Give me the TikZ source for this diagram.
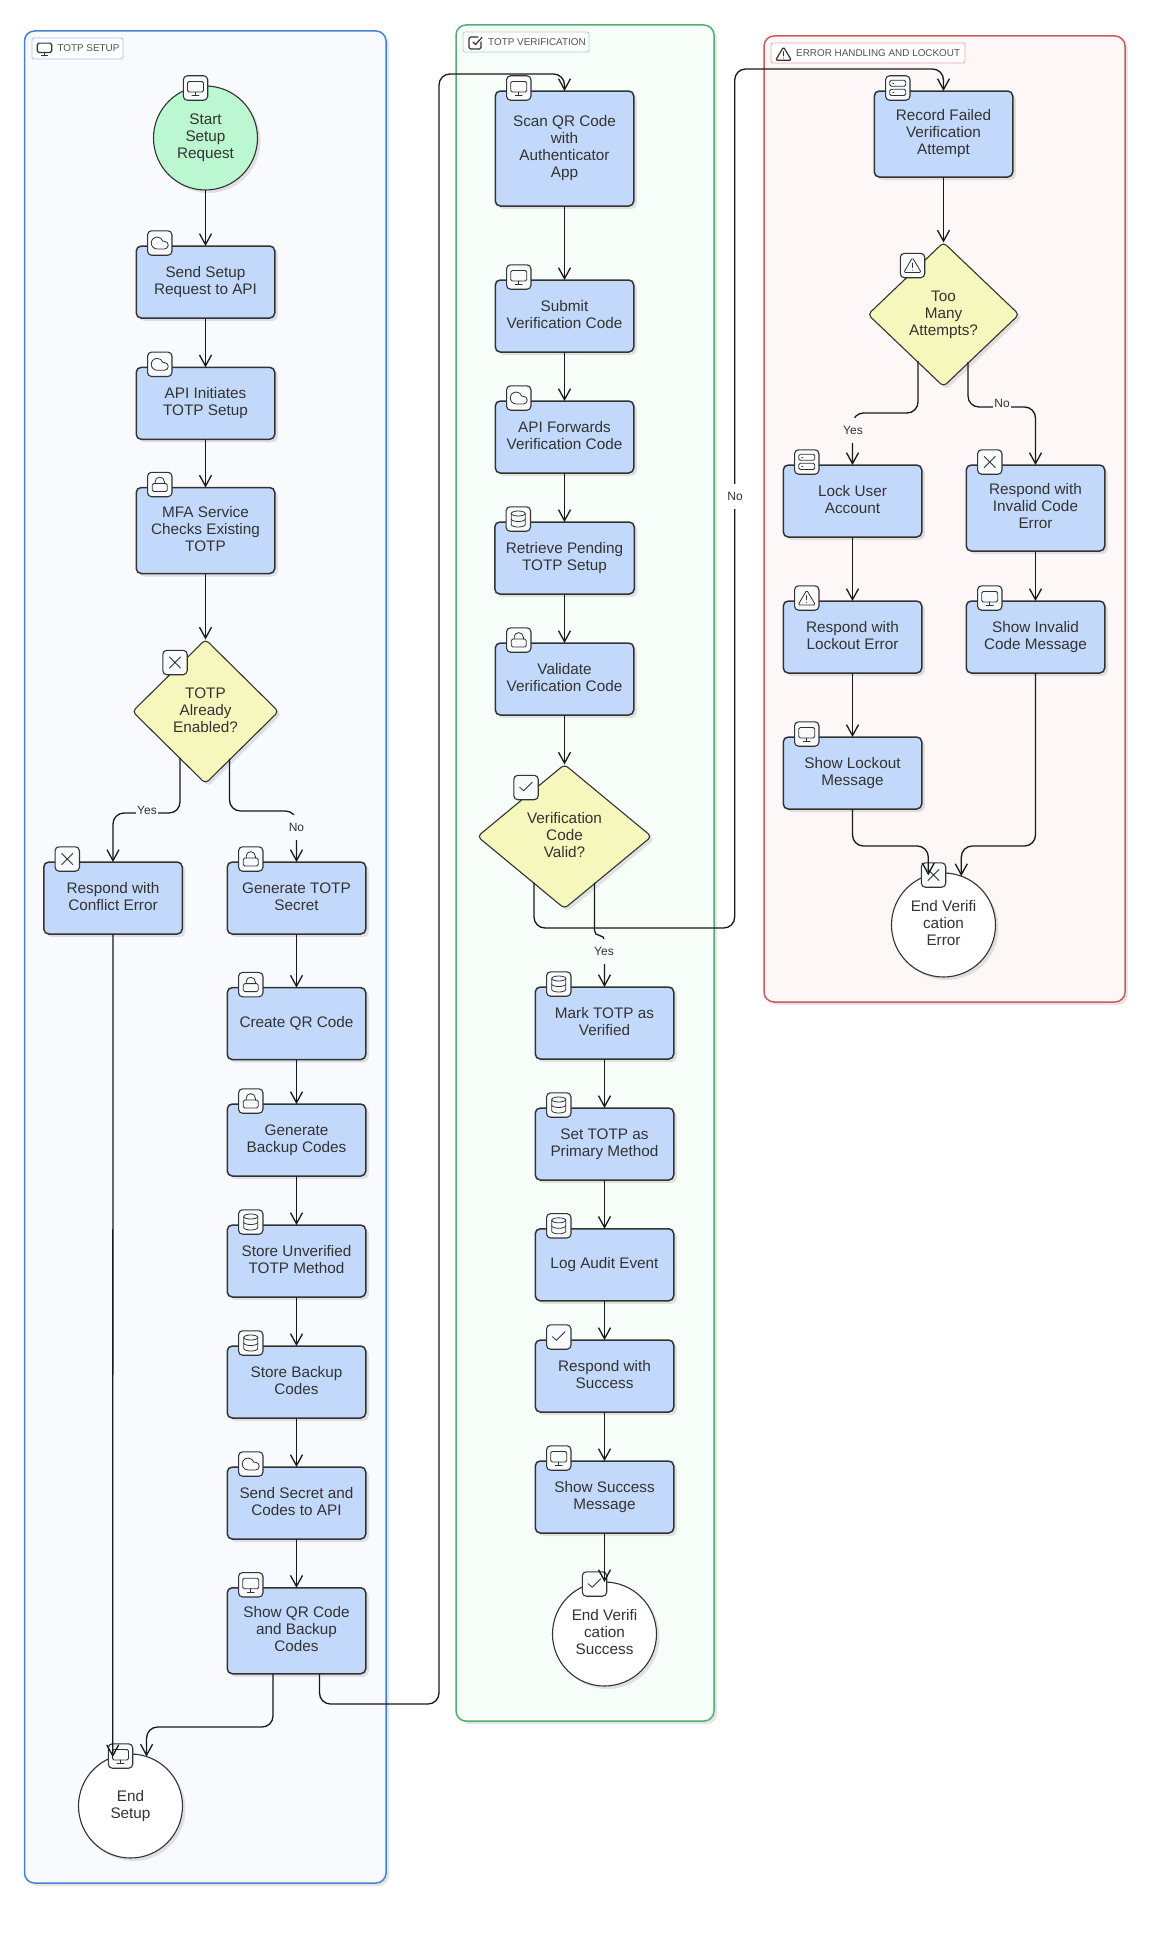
\documentclass[tikz,border=0pt]{standalone}
\usepackage{fontspec}
\setmainfont{Liberation Sans}
\usetikzlibrary{calc,shapes.geometric,shadows,arrows.meta}
\definecolor{procfill}{HTML}{C3D9FB}
\definecolor{startfill}{HTML}{BBF7D0}
\definecolor{decfill}{HTML}{F5F7BD}
\definecolor{nodeline}{HTML}{333333}
\definecolor{txt}{HTML}{333333}
\definecolor{blueline}{HTML}{4A80D4}
\definecolor{bluebg}{HTML}{F8FAFE}
\definecolor{bluechip}{HTML}{A5C1EE}
\definecolor{greenline}{HTML}{52AE70}
\definecolor{greenbg}{HTML}{F7FDF9}
\definecolor{greenchip}{HTML}{A3D9B5}
\definecolor{redline}{HTML}{CC5C5C}
\definecolor{redbg}{HTML}{FDF7F7}
\definecolor{redchip}{HTML}{E8A8A8}
\definecolor{badgefill}{HTML}{F8FAFC}
\tikzset{
  softshadow/.style={drop shadow={shadow xshift=3pt,shadow yshift=-3pt,fill=black,opacity=.1}},
  nodebase/.style={draw=nodeline,text=txt,align=center,inner sep=0pt,outer sep=0pt,
    font=\fontsize{15.3}{17}\selectfont,softshadow,
    execute at end node={\rule[-3.3pt]{0pt}{3.3pt}}},
  proc/.style={nodebase,rectangle,rounded corners=5pt,fill=procfill,line width=1.5pt,
    minimum width=138.5pt,minimum height=72pt},
  tall/.style={minimum height=86pt},
  disc/.style={nodebase,circle,line width=1.1pt,minimum size=104pt},
  dec/.style={nodebase,diamond,rounded corners=4pt,fill=decfill,line width=1.1pt,minimum height=144pt},
  clusterbox/.style={rectangle,rounded corners=10pt,line width=1.5pt,outer sep=0pt,inner sep=0pt,softshadow},
  chip/.style={rectangle,rounded corners=2pt,line width=.8pt,fill=white,outer sep=0pt,inner sep=0pt},
  chiptext/.style={anchor=west,inner sep=0pt,text=txt!85,font=\fontsize{9.9}{12}\selectfont},
  conn/.style={draw=black!90,line width=1.3pt,rounded corners=11pt,-{Straight Barb[length=11pt,width=12pt,line width=1.3pt]}},
  elabel/.style={inner xsep=1pt,inner ysep=0pt,minimum height=25pt,text=txt,font=\fontsize{12}{14}\selectfont},
  ico/.style={draw=nodeline,line width=.8pt,line join=round,line cap=round},
  chipico/.style={draw=nodeline,line width=1.2pt,line join=round,line cap=round},
  badgebox/.style={draw=nodeline,fill=badgefill,line width=1.1pt,rounded corners=4pt},
  icoMon/.pic={\draw[pic actions,rounded corners=1.5pt] (-8,-6.5) rectangle (8,4);
    \draw[pic actions] (0,4)--(0,7.5) (-3.5,7.5)--(3.5,7.5);},
  icoCloud/.pic={\draw[pic actions] (4.7,5.95)--(-2.55,5.95) arc[start angle=90,end angle=343.4,radius=5.95]
    --(4.7,-1.7) arc[start angle=270,end angle=450,radius=3.83]--cycle;},
  icoLock/.pic={\draw[pic actions,rounded corners=1.5pt] (-7.5,-1) rectangle (7.5,7);
    \draw[pic actions] (-4.6,-1)--(-4.6,-2.8) arc[start angle=180,end angle=360,radius=4.6]--(4.6,-1);},
  icoX/.pic={\draw[pic actions] (-5.5,-5.5)--(5.5,5.5) (-5.5,5.5)--(5.5,-5.5);},
  icoDb/.pic={\draw[pic actions] (0,-5.5) ellipse[x radius=7,y radius=2.5];
    \draw[pic actions] (-7,-5.5)--(-7,5.5) arc[start angle=180,end angle=0,x radius=7,y radius=2.5]--(7,-5.5);
    \draw[pic actions] (-7,0) arc[start angle=180,end angle=0,x radius=7,y radius=2.5];},
  icoServer/.pic={\draw[pic actions,rounded corners=1.5pt] (-8,-7.7) rectangle (8,-1.7) (-8,1.2) rectangle (8,7.5);
    \draw[pic actions] (-5,-4.7)--(-4.2,-4.7) (-5,4.3)--(-4.2,4.3);},
  icoAlert/.pic={\draw[pic actions,rounded corners=1.5pt] (0,-7.8)--(8.8,7)--(-8.8,7)--cycle;
    \draw[pic actions] (0,-2.5)--(0,2) (0,4.5)--(0,4.6);},
  icoCheck/.pic={\draw[pic actions] (-6.3,-.3)--(-2.3,3.3)--(6.3,-5.3);},
  icoBoxCheck/.pic={\draw[pic actions,rounded corners=1.5pt] (6,-1)--(6,6)--(-6,6)--(-6,-6)--(3,-6);
    \draw[pic actions] (-2,-1)--(.5,1.5)--(7,-5.5);},
  badge/.pic={\path[badgebox] (-12.2,-12.2) rectangle (12.2,12.2); \pic[ico] {#1};},
}
\begin{document}
\begin{tikzpicture}[x=1pt,y=-1pt]
\useasboundingbox (0,0) rectangle (1150,1935);
\fill[white] (0,0) rectangle (1150,1935);
% clusters
\node[clusterbox,draw=blueline,fill=bluebg,minimum width=361.5pt,minimum height=1852pt] (c1) at (205.25,957) {};
\node[clusterbox,draw=greenline,fill=greenbg,minimum width=258pt,minimum height=1696pt] (c2) at (585,873) {};
\node[clusterbox,draw=redline,fill=redbg,minimum width=361pt,minimum height=966pt] (c3) at (944.5,519) {};
\node[chip,draw=bluechip,minimum width=91pt,minimum height=21pt] (chip1) at (77.5,48.5) {};
\node[chip,draw=greenchip,minimum width=126pt,minimum height=20pt] (chip2) at (526,42) {};
\node[chip,draw=redchip,minimum width=194pt,minimum height=20pt] (chip3) at (868,53) {};
\node[chiptext] (chipt1) at (57.3,48.5) {TOTP SETUP};
\node[chiptext] (chipt2) at (488,42.5) {TOTP VERIFICATION};
\node[chiptext] (chipt3) at (796,53.5) {ERROR HANDLING AND LOCKOUT};
\pic[chipico,scale=.9] at (44.5,49) {icoMon};
\pic[chipico] at (475,43) {icoBoxCheck};
\pic[chipico,scale=.9] at (783.5,54) {icoAlert};
% setup
\node[disc,fill=startfill] (start) at (205.5,138) {Start\\Setup\\Request};
\node[proc] (send) at (205.5,282) {Send Setup\\Request to API};
\node[proc] (apiinit) at (205.5,403.3) {API Initiates\\TOTP Setup};
\node[proc,tall] (mfa) at (205.5,530.5) {MFA Service\\Checks Existing\\TOTP};
\node[dec,minimum width=146pt] (d1) at (205.5,711.5) {TOTP\\Already\\Enabled?};
\node[proc] (conflict) at (113,898) {Respond with\\Conflict Error};
\node[proc] (gensecret) at (296.5,898) {Generate TOTP\\Secret};
\node[proc] (createqr) at (296.5,1023.6) {Create QR Code};
\node[proc] (genbackup) at (296.5,1140) {Generate\\Backup Codes};
\node[proc] (storeunv) at (296.5,1261) {Store Unverified\\TOTP Method};
\node[proc] (storebk) at (296.5,1382) {Store Backup\\Codes};
\node[proc] (sendsecret) at (296.5,1503) {Send Secret and\\Codes to API};
\node[proc,tall] (showqr) at (296.5,1630.75) {Show QR Code\\and Backup\\Codes};
\node[disc,fill=white] (endsetup) at (130.5,1806) {End\\Setup};
% verification
\node[proc,minimum height=115pt] (scan) at (564.5,148.5) {Scan QR Code\\with\\Authenticator\\App};
\node[proc] (submit) at (564.5,316) {Submit\\Verification Code};
\node[proc] (apifwd) at (564.5,437) {API Forwards\\Verification Code};
\node[proc,minimum width=139.5pt] (retrieve) at (564.5,558) {Retrieve Pending\\TOTP Setup};
\node[proc] (validate) at (564.5,679) {Validate\\Verification Code};
\node[dec,aspect=1.2,minimum width=174pt] (d2) at (564.5,836.5) {Verification\\Code\\Valid?};
\node[proc] (mark) at (604.5,1023) {Mark TOTP as\\Verified};
\node[proc] (settotp) at (604.5,1144) {Set TOTP as\\Primary Method};
\node[proc] (logaudit) at (604.5,1264.8) {Log Audit Event};
\node[proc] (respok) at (604.5,1376) {Respond with\\Success};
\node[proc] (showok) at (604.5,1497) {Show Success\\Message};
\node[disc,fill=white] (endok) at (604.5,1634) {End Verifi\\cation\\Success};
% errors
\node[proc,tall] (record) at (943.5,134) {Record Failed\\Verification\\Attempt};
\node[dec,minimum width=151pt] (d3) at (943.5,314.5) {Too\\Many\\Attempts?};
\node[proc] (lockuser) at (852.5,501) {Lock User\\Account};
\node[proc,tall] (respinv) at (1035.5,508) {Respond with\\Invalid Code\\Error};
\node[proc] (resplock) at (852.5,637) {Respond with\\Lockout Error};
\node[proc] (showinv) at (1035.5,637) {Show Invalid\\Code Message};
\node[proc] (showlock) at (852.5,773) {Show Lockout\\Message};
\node[disc,fill=white] (enderr) at (943.5,925) {End Verifi\\cation\\Error};
% badges
\pic at ($(start.center)+(-10,-50)$) {badge=icoMon};
\pic at ($(send.north west)+(23.5,-3)$) {badge=icoCloud};
\pic at ($(apiinit.north west)+(23.5,-3)$) {badge=icoCloud};
\pic at ($(mfa.north west)+(23.5,-3)$) {badge=icoLock};
\pic at (175,662.5) {badge=icoX};
\pic at ($(conflict.north west)+(23.5,-3)$) {badge=icoX};
\pic at ($(gensecret.north west)+(23.5,-3)$) {badge=icoLock};
\pic at ($(createqr.north west)+(23.5,-3)$) {badge=icoLock};
\pic at ($(genbackup.north west)+(23.5,-3)$) {badge=icoLock};
\pic at ($(storeunv.north west)+(23.5,-3)$) {badge=icoDb};
\pic at ($(storebk.north west)+(23.5,-3)$) {badge=icoDb};
\pic at ($(sendsecret.north west)+(23.5,-3)$) {badge=icoCloud};
\pic at ($(showqr.north west)+(23.5,-3)$) {badge=icoMon};
\pic at ($(endsetup.center)+(-10,-50)$) {badge=icoMon};
\pic at ($(scan.north west)+(23.5,-3)$) {badge=icoMon};
\pic at ($(submit.north west)+(23.5,-3)$) {badge=icoMon};
\pic at ($(apifwd.north west)+(23.5,-3)$) {badge=icoCloud};
\pic at ($(retrieve.north west)+(23.5,-3)$) {badge=icoDb};
\pic at ($(validate.north west)+(23.5,-3)$) {badge=icoLock};
\pic at (526,787.5) {badge=icoCheck};
\pic at ($(mark.north west)+(23.5,-3)$) {badge=icoDb};
\pic at ($(settotp.north west)+(23.5,-3)$) {badge=icoDb};
\pic at ($(logaudit.north west)+(23.5,-3)$) {badge=icoDb};
\pic at ($(respok.north west)+(23.5,-3)$) {badge=icoCheck};
\pic at ($(showok.north west)+(23.5,-3)$) {badge=icoMon};
\pic at ($(endok.center)+(-10,-50)$) {badge=icoCheck};
\pic at ($(record.north west)+(23.5,-3)$) {badge=icoServer};
\pic at (912.5,265.5) {badge=icoAlert};
\pic at ($(lockuser.north west)+(23.5,-3)$) {badge=icoServer};
\pic at ($(respinv.north west)+(23.5,-3)$) {badge=icoX};
\pic at ($(resplock.north west)+(23.5,-3)$) {badge=icoAlert};
\pic at ($(showinv.north west)+(23.5,-3)$) {badge=icoMon};
\pic at ($(showlock.north west)+(23.5,-3)$) {badge=icoMon};
\pic at ($(enderr.center)+(-10,-50)$) {badge=icoX};
% waypoints
\coordinate (wYes1) at (113,813);
\coordinate (wNo1) at (296.5,811);
\coordinate (wQrA) at (146.6,1727);
\coordinate (wQrB) at (439,1704);
\coordinate (wQrC) at (564.5,74);
\coordinate (wYes2) at (604.5,935.5);
\coordinate (wNo2) at (734.7,928);
\coordinate (wNo2b) at (943.5,69);
\coordinate (wYes3) at (852.5,413);
\coordinate (wNo3) at (1035.5,407);
\coordinate (wEndL) at (928.3,846);
\coordinate (wEndR) at (961.3,846);
% connectors
\foreach \a/\b in {start/send,send/apiinit,apiinit/mfa,mfa/d1,gensecret/createqr,createqr/genbackup,
  genbackup/storeunv,storeunv/storebk,storebk/sendsecret,sendsecret/showqr,
  scan/submit,submit/apifwd,apifwd/retrieve,retrieve/validate,validate/d2,
  mark/settotp,settotp/logaudit,logaudit/respok,respok/showok,showok/endok,
  record/d3,lockuser/resplock,resplock/showlock,respinv/showinv}
  {\draw[conn] (\a.south) -- (\b.north);}
\draw[conn] ($(d1.center)+(-25.5,46)$) |- (wYes1) -- (conflict.north);
\draw[conn] ($(d1.center)+(24,47)$) |- (wNo1) -- (gensecret.north);
\draw[conn] (conflict.south) -- (endsetup.110);
\draw[conn] ($(showqr.south)+(-23.5,0)$) |- (wQrA) -- (endsetup.72);
\draw[conn] ($(showqr.south)+(23,0)$) |- (wQrB) |- (wQrC) -- (scan.north);
\draw[conn,rounded corners=5pt] ($(d2.center)+(30,46)$) |- (wYes2) -- (mark.north);
\draw[conn] ($(d2.center)+(-30.5,46)$) |- (wNo2) |- (wNo2b) -- (record.north);
\draw[conn] ($(d3.center)+(-25.5,46.5)$) |- (wYes3) -- (lockuser.north);
\draw[conn] ($(d3.center)+(24.5,47.5)$) |- (wNo3) -- (respinv.north);
\draw[conn] (showlock.south) |- (wEndL) -- (enderr.107);
\draw[conn] (showinv.south) |- (wEndR) -- (enderr.70);
% edge labels
\node[elabel,fill=bluebg] (lYes1) at (147,810) {Yes};
\node[elabel,fill=bluebg] (lNo1) at (296.5,827) {No};
\node[elabel,fill=greenbg] (lYes2) at (604,951) {Yes};
\node[elabel,fill=white] (lNo2) at (735,496) {No};
\node[elabel,fill=redbg] (lYes3) at (853,430) {Yes};
\node[elabel,fill=redbg] (lNo3) at (1002,403) {No};
\end{tikzpicture}
\end{document}
